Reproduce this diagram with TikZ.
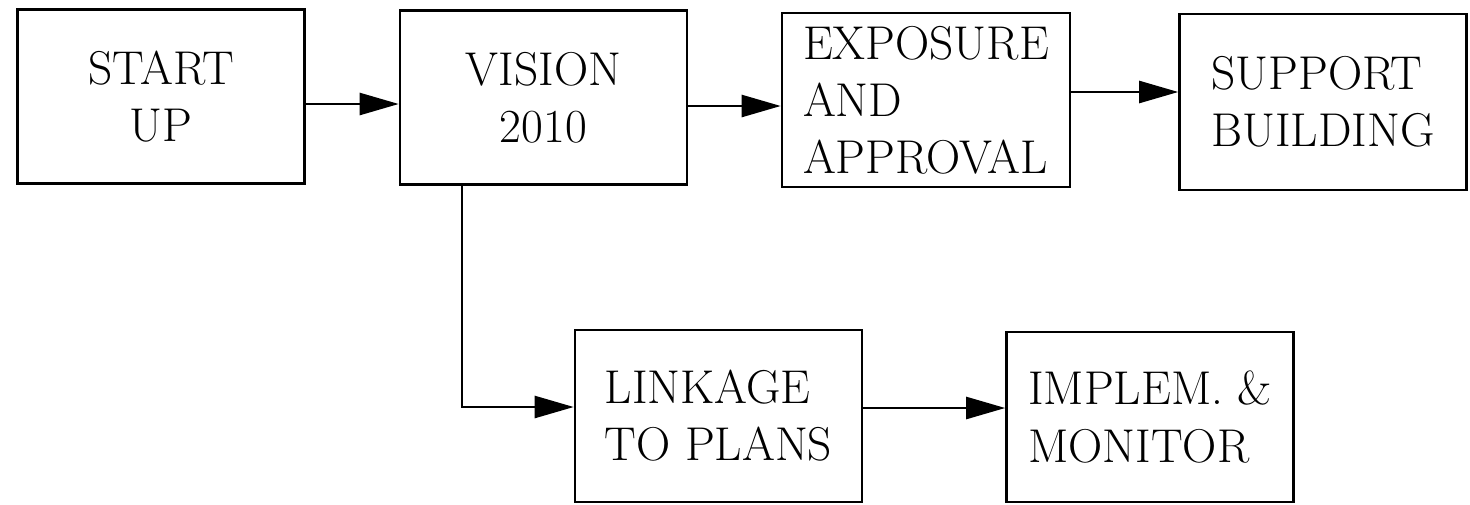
\documentclass[tikz,border=0pt]{standalone}
\usetikzlibrary{arrows.meta}

\begin{document}
\begin{tikzpicture}[x=0.02cm, y=-0.02cm,
  box/.style={draw, line width=1.5pt, minimum width=5.74cm, minimum height=3.48cm, align=left, font=\fontsize{27}{32.5}\selectfont},
  arr/.style={line width=1.4pt, -{Triangle[length=0.78cm, width=0.44cm]}}]
\useasboundingbox (0,0) rectangle (1470,504);
% top row
\node[box, align=center] (start) at (161,96.5) {START\\UP};
\node[box, align=center] (vision) at (543.5,97.5) {VISION\\2010};
\node[box, minimum width=5.76cm] (expo) at (926,100) {EXPOSURE\\AND\\APPROVAL};
\node[box, minimum height=3.52cm] (support) at (1323,102) {SUPPORT\\BUILDING};
% bottom row
\node[box, minimum height=3.44cm] (linkage) at (718.5,416) {LINKAGE\\TO PLANS};
\node[box, minimum height=3.4cm] (implem) at (1150,417) {IMPLEM. \&\\MONITOR};
% connectors
\draw[arr] (start.east |- 0,104) -- (vision.west |- 0,104);
\draw[arr] (vision.east |- 0,106) -- (expo.west |- 0,106);
\draw[arr] (expo.east |- 0,92) -- (support.west |- 0,92);
\draw[arr] (vision.south -| 462,0) |- (linkage.west |- 0,407);
\draw[arr] (linkage.east |- 0,408) -- (implem.west |- 0,408);
\end{tikzpicture}
\end{document}
